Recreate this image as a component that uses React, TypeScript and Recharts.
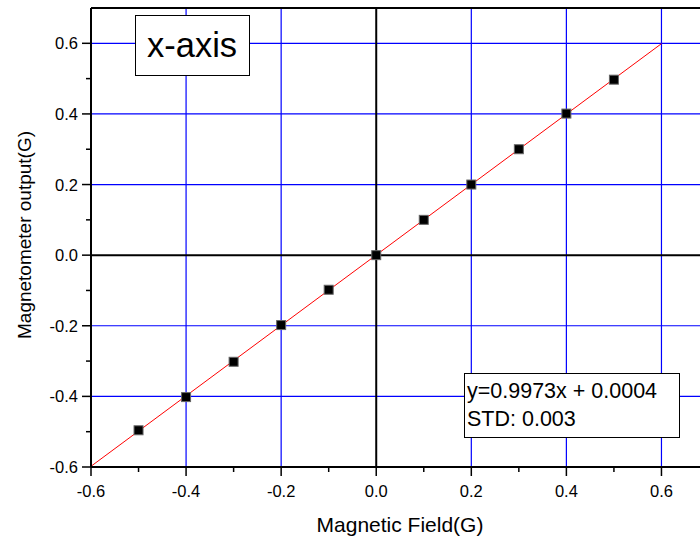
import { ComposedChart, Line, ReferenceLine, Scatter, XAxis, YAxis } from "recharts";

const fieldValues = [-0.5, -0.4, -0.3, -0.2, -0.1, 0, 0.1, 0.2, 0.3, 0.4, 0.5];
const outputValues = [-0.496, -0.402, -0.302, -0.198, -0.098, 0.0, 0.1, 0.2, 0.3, 0.401, 0.497];

const fitX = [-0.6, 0.6];
const fitY = [-0.598, 0.599];

const axisTicks = [-0.6, -0.5, -0.4, -0.3, -0.2, -0.1, 0, 0.1, 0.2, 0.3, 0.4, 0.5, 0.6];
const gridValues = [-0.4, -0.2, 0.2, 0.4, 0.6];

const points = fieldValues.map((x, i) => ({ x, y: outputValues[i] }));
const fitLine = fitX.map((x, i) => ({ x, y: fitY[i] }));

const font = "'Liberation Sans', Arial, sans-serif";

const isMajor = (v: number) => Math.abs(Math.round(v * 10)) % 2 === 0;

const BottomTick = ({ x, y, payload }: any) => {
  const major = isMajor(payload.value);
  return (
    <g>
      <line x1={x} x2={x} y1={y} y2={y + (major ? 9 : 5)} stroke="#000" strokeWidth={1.5} />
      {major && (
        <text x={x} y={y + 30} textAnchor="middle" fontSize={16.5} fontFamily={font} fill="#000">
          {payload.value.toFixed(1)}
        </text>
      )}
    </g>
  );
};

const LeftTick = ({ x, y, payload }: any) => {
  const major = isMajor(payload.value);
  return (
    <g>
      <line x1={x} x2={x - (major ? 9 : 5)} y1={y} y2={y} stroke="#000" strokeWidth={1.5} />
      {major && (
        <text x={x - 13} y={y + 6} textAnchor="end" fontSize={16.5} fontFamily={font} fill="#000">
          {payload.value.toFixed(1)}
        </text>
      )}
    </g>
  );
};

const SquareDot = ({ cx, cy }: any) => (
  <rect x={cx - 4.5} y={cy - 4.5} width={9} height={9} fill="#000" stroke="#666" strokeWidth={1} />
);

export default function App() {
  return (
    <div style={{ position: "fixed", left: 0, top: 0, width: 700, height: 540, overflow: "hidden", background: "#fff" }}>
      <ComposedChart width={709} height={540} margin={{ top: 8, right: 0, bottom: 0, left: 0 }}>
        <XAxis
          type="number"
          dataKey="x"
          domain={[-0.6, 0.7]}
          ticks={axisTicks}
          interval={0}
          height={73}
          tickSize={0}
          tickMargin={0}
          tick={<BottomTick />}
          axisLine={{ stroke: "#000", strokeWidth: 2 }}
          allowDataOverflow
        />
        <YAxis
          type="number"
          dataKey="y"
          domain={[-0.6, 0.7]}
          ticks={axisTicks}
          interval={0}
          width={91}
          tickSize={0}
          tickMargin={0}
          tick={<LeftTick />}
          axisLine={{ stroke: "#000", strokeWidth: 2 }}
          allowDataOverflow
        />
        {gridValues.map((v) => (
          <ReferenceLine key={"gx" + v} x={v} stroke="#0000ff" strokeWidth={1.2} />
        ))}
        {gridValues.map((v) => (
          <ReferenceLine key={"gy" + v} y={v} stroke="#0000ff" strokeWidth={1.2} />
        ))}
        <ReferenceLine x={0} stroke="#000" strokeWidth={2} />
        <ReferenceLine y={0} stroke="#000" strokeWidth={2} />
        <ReferenceLine y={0.7} stroke="#000" strokeWidth={2} />
        <Line
          data={fitLine}
          dataKey="y"
          stroke="#ff0000"
          strokeWidth={1}
          dot={false}
          activeDot={false}
          isAnimationActive={false}
        />
        <Scatter data={points} dataKey="y" shape={<SquareDot />} isAnimationActive={false} />
      </ComposedChart>
      <svg width={700} height={540} style={{ position: "absolute", left: 0, top: 0, pointerEvents: "none" }}>
        <rect x={135.5} y={15.5} width={114} height={60} fill="#fff" stroke="#000" strokeWidth={1} />
        <text x={192} y={57} textAnchor="middle" fontSize={34.5} fontFamily={font} fill="#000">
          x-axis
        </text>
        <rect x={464.5} y={373.5} width={215} height={64} fill="#fff" stroke="#000" strokeWidth={1} />
        <text x={467} y={398} fontSize={21.5} fontFamily={font} fill="#000">
          y=0.9973x + 0.0004
        </text>
        <text x={467} y={426} fontSize={21.5} fontFamily={font} fill="#000">
          STD: 0.003
        </text>
        <text x={400} y={532} textAnchor="middle" fontSize={21} fontFamily={font} fill="#000">
          Magnetic Field(G)
        </text>
        <text
          x={31}
          y={235}
          textAnchor="middle"
          fontSize={19}
          fontFamily={font}
          fill="#000"
          transform="rotate(-90 31 235)"
        >
          Magnetometer output(G)
        </text>
      </svg>
    </div>
  );
}
